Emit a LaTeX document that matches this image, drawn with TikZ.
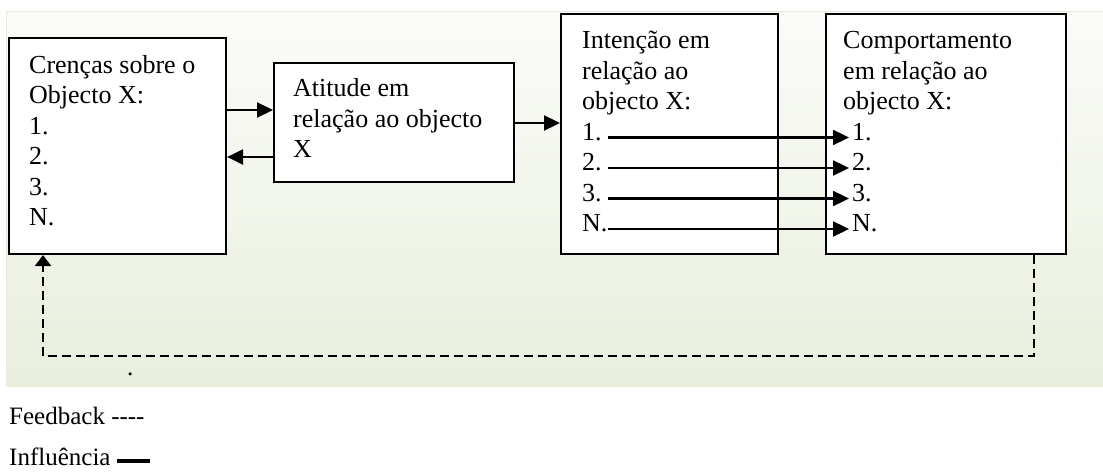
\documentclass[tikz,border=0pt]{standalone}
\usepackage{fontspec}
\setmainfont{Liberation Serif}
\usetikzlibrary{arrows.meta,calc}
\definecolor{bgtop}{RGB}{251,251,249}
\definecolor{bgbot}{RGB}{232,239,221}
\definecolor{bgedge}{RGB}{234,232,220}
\begin{document}
\begin{tikzpicture}[x=1pt,y=-1pt,
  box/.style={draw=black,line width=2.1pt,fill=white,anchor=north west,inner sep=0pt},
  txt/.style={inner sep=0pt,anchor=base west,font=\fontsize{26}{30.5}\selectfont},
  leg/.style={inner sep=0pt,anchor=base west,font=\fontsize{25}{29}\selectfont},
  arr/.style={line width=2.3pt,-{Triangle[length=16pt,width=15pt]}},
  fb/.style={line width=2.3pt,dash pattern=on 9pt off 5pt,-{Triangle[length=11pt,width=16pt]}}]
\useasboundingbox (0,0) rectangle (1103,473);
\fill[white] (0,0) rectangle (1103,473);
\shade[top color=bgtop,bottom color=bgbot] (6,12) rectangle (1103,386);
\draw[bgedge,line width=1pt] (1103,12) -- (6,12) -- (6,386);

% boxes
\node[box,minimum width=217pt,minimum height=216pt] (b1) at (8,37) {};
\node[box,minimum width=240pt,minimum height=119pt] (b2) at (273,62) {};
\node[box,minimum width=217pt,minimum height=240pt] (b3) at (560,13) {};
\node[box,minimum width=240pt,minimum height=240pt] (b4) at (825,13) {};

% texts
\node[txt] (t1) at (29,73.5) {\begin{tabular}[t]{@{}l@{}}Crenças sobre o\\Objecto X:\\1.\\2.\\3.\\N.\end{tabular}};
\node[txt] (t2) at (293,97) {\begin{tabular}[t]{@{}l@{}}Atitude em\\relação ao objecto\\X\end{tabular}};
\node[txt] (t3) at (582,49) {\begin{tabular}[t]{@{}l@{}}Intenção em\\relação ao\\objecto X:\end{tabular}};
\node[txt] (t4) at (843,49) {\begin{tabular}[t]{@{}l@{}}Comportamento\\em relação ao\\objecto X:\end{tabular}};

\node[txt] (i1) at (582,140.5) {1.};
\node[txt] (i2) at (582,171) {2.};
\node[txt] (i3) at (582,201.5) {3.};
\node[txt] (i4) at (582,232) {N.};
\node[txt] (c1) at (852,140.5) {1.};
\node[txt] (c2) at (852,171) {2.};
\node[txt] (c3) at (852,201.5) {3.};
\node[txt] (c4) at (852,232) {N.};

% connectors between boxes
\draw[arr] (b1.east |- 0,110) -- (b2.west |- 0,110);
\draw[arr] (b2.west |- 0,157) -- (b1.east |- 0,157);
\draw[arr] (b2.east |- 0,123) -- (b3.west |- 0,123);

% item arrows
\foreach \k in {1,2,3,4}{
  \draw[arr] ([shift={(26pt,3pt)}]i\k.base west) -- ([shift={(-3pt,3pt)}]c\k.base west);
}

% feedback loop
\coordinate (f1) at (1034,356);
\coordinate (f2) at (43,356);
\draw[fb] (b4.south -| f1) -- (f1) -- (f2) -- (b1.south -| f2);

\node[leg] (dot) at (127,375) {.};

% legend
\node[leg] (fbk) at (9,424) {Feedback -{}-{}-{}-};
\node[leg] (inf) at (9,465) {Influência \rule[2pt]{33pt}{4.5pt}};
\end{tikzpicture}
\end{document}
